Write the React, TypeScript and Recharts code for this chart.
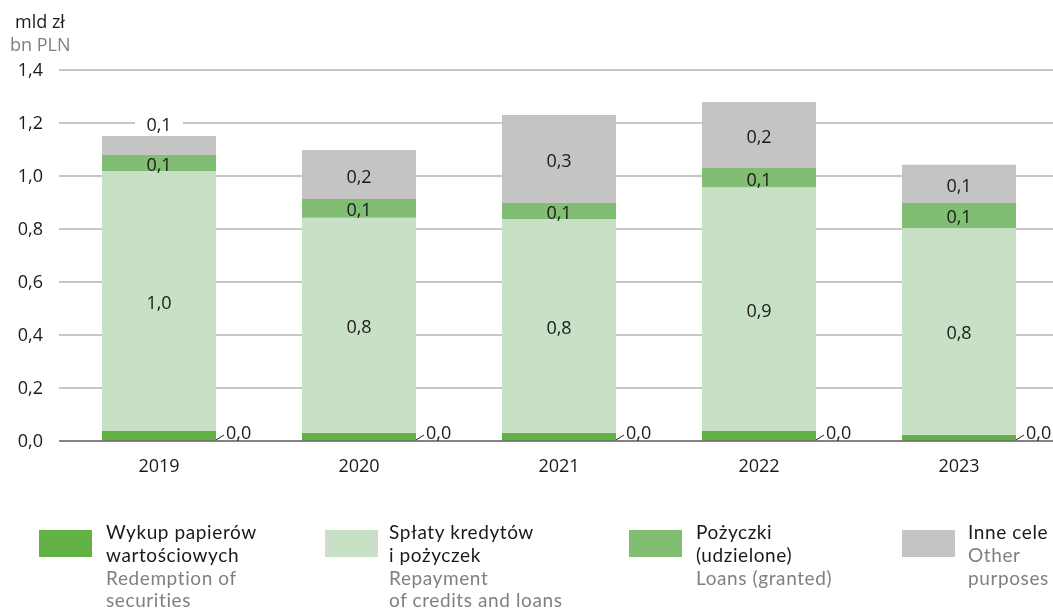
import React from 'react';
import { BarChart, Bar, XAxis, YAxis, CartesianGrid } from 'recharts';

const years = ['2019', '2020', '2021', '2022', '2023'];
const redemption = [0.039, 0.031, 0.031, 0.039, 0.024];
const repayment = [0.98, 0.811, 0.807, 0.919, 0.78];
const loans = [0.06, 0.071, 0.06, 0.072, 0.094];
const other = [0.072, 0.185, 0.332, 0.249, 0.144];
const yTicks = [0, 0.2, 0.4, 0.6, 0.8, 1.0, 1.2, 1.4];

const legendItems = [
  { color: '#62b046', pl: ['Wykup papierów', 'wartościowych'], en: ['Redemption of', 'securities'], box: 39, text: 106 },
  { color: '#c8e0c5', pl: ['Spłaty kredytów', 'i pożyczek'], en: ['Repayment', 'of credits and loans'], box: 325, text: 389 },
  { color: '#82bd74', pl: ['Pożyczki', '(udzielone)'], en: ['Loans (granted)'], box: 629, text: 696 },
  { color: '#c4c4c4', pl: ['Inne cele'], en: ['Other', 'purposes'], box: 902, text: 968 },
];

const data = years.map((y, i) => ({
  year: y,
  redemption: redemption[i],
  repayment: repayment[i],
  loans: loans[i],
  other: other[i],
}));

const FONT = '"Open Sans", sans-serif';
const LEGEND_FONT = 'Lato, "Open Sans", sans-serif';
const fmt = (v: number) => v.toFixed(1).replace('.', ',');

const makeInside = (arr: number[]) => (props: any) => {
  const { x, y, width, height, index } = props;
  return (
    <text x={x + width / 2} y={y + height / 2 + 1} textAnchor="middle" dominantBaseline="central"
      fontFamily={FONT} fontSize={18} fill="#1a1a1a">{fmt(arr[index])}</text>
  );
};

const RepaymentLabel = makeInside(repayment);
const LoansLabel = makeInside(loans);

const OtherLabel = (props: any) => {
  const { x, y, width, height, index } = props;
  const v = other[index];
  if (height < 22) {
    const cy = y - 13;
    return (
      <g>
        <rect x={x + width / 2 - 24} y={cy - 10} width={48} height={20} fill="#ffffff" />
        <text x={x + width / 2} y={cy + 1} textAnchor="middle" dominantBaseline="central"
          fontFamily={FONT} fontSize={18} fill="#1a1a1a">{fmt(v)}</text>
      </g>
    );
  }
  return (
    <text x={x + width / 2} y={y + height / 2 + 1} textAnchor="middle" dominantBaseline="central"
      fontFamily={FONT} fontSize={18} fill="#1a1a1a">{fmt(v)}</text>
  );
};

const RedemptionLabel = (props: any) => {
  const { x, y, width, height, index } = props;
  const bx = x + width;
  const by = y + height;
  return (
    <g>
      <line x1={bx} y1={by - 1} x2={bx + 8} y2={by - 6} stroke="#1a1a1a" strokeWidth={1} />
      <text x={bx + 10} y={by - 9} textAnchor="start" dominantBaseline="central"
        fontFamily={FONT} fontSize={18} fill="#1a1a1a">{fmt(redemption[index])}</text>
    </g>
  );
};

const LINE = 22.8;

export default function App() {
  return (
    <div style={{ position: 'fixed', left: 8, top: 8, width: 1045, height: 603, fontFamily: FONT, overflow: 'hidden' }}>
      <div style={{ position: 'absolute', left: 7, top: 2, fontSize: 18, color: '#1a1a1a', lineHeight: '23px' }}>mld zł</div>
      <div style={{ position: 'absolute', left: 2, top: 25, fontSize: 18, color: '#808080', lineHeight: '23px' }}>bn PLN</div>
      <div style={{ position: 'absolute', left: 0, top: 0 }}>
        <BarChart width={1045} height={490} data={data} margin={{ top: 62, right: -6, bottom: 27, left: 0 }} barSize={114}>
          <CartesianGrid vertical={false} stroke="#b3b3b3" strokeWidth={1.3} />
          <XAxis dataKey="year" height={30} axisLine={{ stroke: '#6e6e6e', strokeWidth: 1.5 }} tickLine={false} tickSize={0} tickMargin={18}
            tick={{ fontFamily: FONT, fontSize: 18, fill: '#1a1a1a' }} interval={0} />
          <YAxis width={51} domain={[0, 1.4]} ticks={yTicks} axisLine={false} tickLine={false} tickSize={0} tickMargin={16}
            tickFormatter={(v: number) => fmt(v)} tick={{ fontFamily: FONT, fontSize: 18, fill: '#1a1a1a' }} />
          <Bar dataKey="redemption" stackId="a" fill="#62b046" isAnimationActive={false} label={RedemptionLabel} />
          <Bar dataKey="repayment" stackId="a" fill="#c8e0c5" isAnimationActive={false} label={RepaymentLabel} />
          <Bar dataKey="loans" stackId="a" fill="#82bd74" isAnimationActive={false} label={LoansLabel} />
          <Bar dataKey="other" stackId="a" fill="#c4c4c4" isAnimationActive={false} label={OtherLabel} />
        </BarChart>
      </div>
      {legendItems.map((it, i) => {
        const lines = [
          ...it.pl.map((t) => ({ t, c: '#1a1a1a' })),
          ...it.en.map((t) => ({ t, c: '#808080' })),
        ];
        return (
          <React.Fragment key={i}>
            <div style={{ position: 'absolute', left: it.box - 8, top: 522, width: 53, height: 27, background: it.color }} />
            {lines.map((l, j) => (
              <div key={j} style={{ position: 'absolute', left: it.text - 8, top: 513 + j * LINE, height: LINE,
                fontFamily: LEGEND_FONT, fontSize: 19, letterSpacing: '0.6px', lineHeight: LINE + 'px', whiteSpace: 'nowrap', color: l.c }}>{l.t}</div>
            ))}
          </React.Fragment>
        );
      })}
    </div>
  );
}
